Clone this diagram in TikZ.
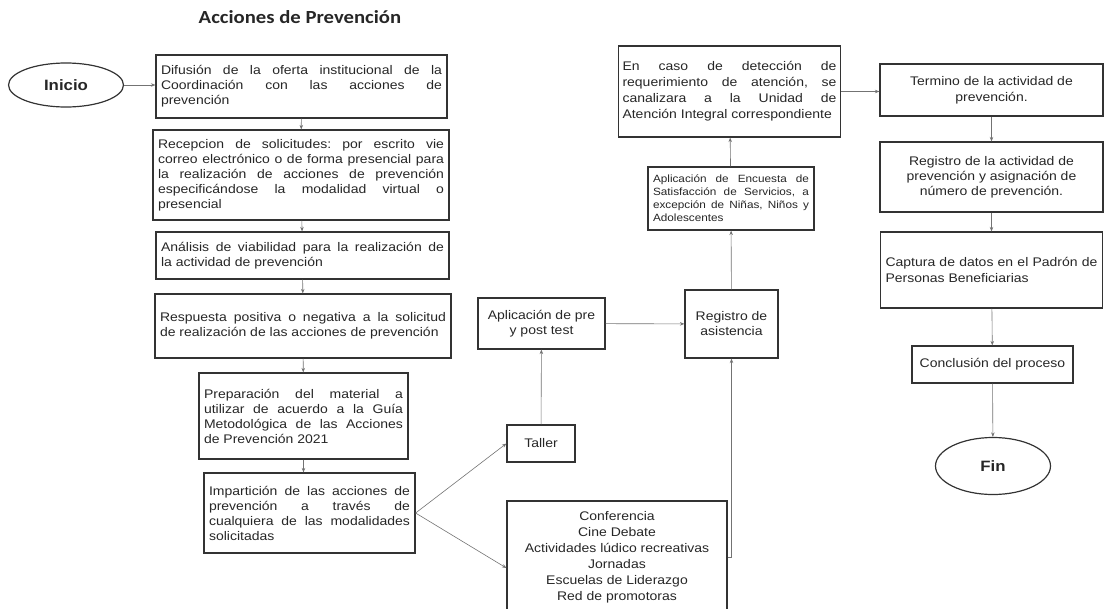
\documentclass[tikz,border=0pt]{standalone}
\usepackage{fontspec}
\setmainfont{Liberation Sans}[FakeStretch=1.12]
\newfontfamily\titlefont{Carlito}[FakeStretch=1.12]
\usetikzlibrary{shapes.geometric,arrows.meta}
\frenchspacing

\begin{document}
\begin{tikzpicture}[x=1pt,y=-1pt,
  caja/.style={draw=black!80, line width=1.2pt, text=black!85, inner xsep=5pt, inner ysep=2pt,
    font=\fontsize{12.5}{15}\selectfont},
  chica/.style={caja, font=\fontsize{10.5}{13}\selectfont},
  extremo/.style={ellipse, draw=black!80, line width=1.2pt, text=black!85, inner sep=0pt,
    font=\fontsize{15}{18}\selectfont\bfseries},
  flecha/.style={draw=black!55, line width=0.6pt, -{Stealth[length=4.5pt,width=3.5pt]}}]
  \useasboundingbox (0,0) rectangle (1106,608);
  \node[font=\titlefont\fontsize{18.5}{22}\selectfont\bfseries, text=black!85] (titulo) at (300,17) {Acciones de Prevención};
  % columna izquierda
  \node[extremo, minimum width=115pt, minimum height=44pt] (inicio) at (66,85) {Inicio};
  \node[caja, text width=281pt, align=justify, minimum height=63pt] (difusion) at (301.5,86.5)
    {Difusión de la oferta institucional de la\linebreak Coordinación con las acciones de\linebreak prevención};
  \node[caja, text width=286pt, align=justify, minimum height=90pt] (recepcion) at (301,175)
    {Recepcion de solicitudes: por escrito vie\linebreak correo electrónico o de forma presencial para\linebreak la realización de acciones de prevención\linebreak especificándose la modalidad virtual o\linebreak presencial};
  \node[caja, text width=283pt, align=justify, minimum height=47pt] (analisis) at (302.5,255.5)
    {Análisis de viabilidad para la realización de\linebreak la actividad de prevención};
  \node[caja, text width=286pt, align=justify, minimum height=64pt] (respuesta) at (303,326)
    {Respuesta positiva o negativa a la solicitud\linebreak de realización de las acciones de prevención};
  \node[caja, text width=199pt, align=justify, minimum height=86pt] (preparacion) at (303.5,416)
    {Preparación del material a\linebreak utilizar de acuerdo a la Guía\linebreak Metodológica de las Acciones\linebreak de Prevención 2021};
  \node[caja, text width=201pt, align=justify, minimum height=80pt] (imparticion) at (309.5,513)
    {Impartición de las acciones de\linebreak prevención a través de\linebreak cualquiera de las modalidades\linebreak solicitadas};
  % columna central
  \node[caja, minimum width=68pt, minimum height=37pt] (taller) at (541,443.5) {Taller};
  \node[caja, align=center, minimum width=127pt, minimum height=51pt] (prepost) at (541.5,323.5)
    {Aplicación de pre\\ y post test};
  \node[caja, align=center, minimum width=220pt, minimum height=112pt, font=\fontsize{12.5}{16}\selectfont] (modalidades) at (617,557)
    {Conferencia\\ Cine Debate\\ Actividades lúdico recreativas\\ Jornadas\\ Escuelas de Liderazgo\\ Red de promotoras};
  \node[caja, align=center, minimum width=93pt, minimum height=68pt] (asistencia) at (731.5,324)
    {Registro de\\ asistencia};
  \node[chica, text width=156pt, align=justify, minimum height=63pt] (encuesta) at (731,198.5)
    {Aplicación de Encuesta de\linebreak Satisfacción de Servicios, a\linebreak excepción de Niñas, Niños y\linebreak Adolescentes};
  \node[caja, inner xsep=4pt, text width=214pt, align=justify, minimum height=91pt, font=\fontsize{12.5}{16}\selectfont] (encaso) at (729.5,91.5)
    {En caso de detección de\linebreak requerimiento de atención, se\linebreak canalizara a la Unidad de\linebreak Atención Integral correspondiente};
  % columna derecha
  \node[caja, align=center, minimum width=223pt, minimum height=52pt, font=\fontsize{12.5}{16}\selectfont] (termino) at (991.5,90)
    {Termino de la actividad de\\ prevención.};
  \node[caja, align=center, minimum width=223pt, minimum height=70pt] (registro) at (991.5,177)
    {Registro de la actividad de\\ prevención y asignación de\\ número de prevención.};
  \node[caja, text width=212pt, align=justify, minimum height=76pt, font=\fontsize{12.5}{16}\selectfont] (captura) at (991.5,270)
    {Captura de datos en el Padrón de\linebreak Personas Beneficiarias};
  \node[caja, minimum width=161pt, minimum height=37pt] (conclusion) at (992.5,364.5) {Conclusión del proceso};
  \node[extremo, minimum width=115pt, minimum height=57pt] (fin) at (993,466) {Fin};
  % conectores
  \draw[flecha] (inicio.east) -- (inicio.east -| difusion.west);
  \draw[flecha] (difusion) -- (recepcion);
  \draw[flecha] (recepcion) -- (analisis);
  \draw[flecha] (analisis) -- (respuesta);
  \draw[flecha] (respuesta) -- (preparacion);
  \draw[flecha] (preparacion.south) -- (preparacion.south |- imparticion.north);
  \draw[flecha] (imparticion.east) -- (taller.west);
  \draw[flecha] (imparticion.east) -- ([yshift=-11pt]modalidades.west);
  \draw[flecha] (taller) -- (prepost);
  \draw[flecha] (prepost) -- (asistencia);
  \draw[flecha] (modalidades.east) -| (asistencia.south);
  \draw[flecha] (asistencia) -- (encuesta);
  \draw[flecha] (encuesta) -- (encaso);
  \draw[flecha] (encaso.east) -- (encaso.east -| termino.west);
  \draw[flecha] (termino) -- (registro);
  \draw[flecha] (registro) -- (captura);
  \draw[flecha] (captura) -- (conclusion);
  \draw[flecha] (conclusion) -- (fin);
\end{tikzpicture}
\end{document}
